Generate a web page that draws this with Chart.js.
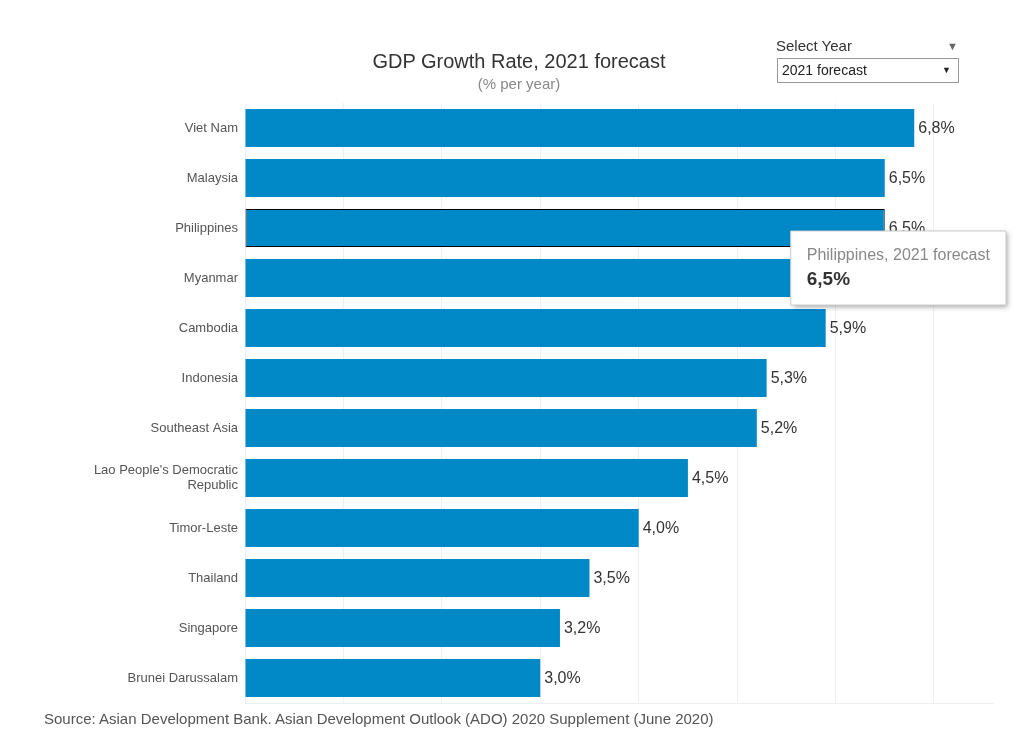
<!DOCTYPE html>
<html><head><meta charset="utf-8">
<script src="https://cdn.jsdelivr.net/npm/chart.js@4/dist/chart.umd.min.js"></script>
<style>
html,body{margin:0;padding:0;background:#fff;font-family:"Liberation Sans",Arial,sans-serif;}
#wrap{position:relative;width:1015px;height:743px;overflow:hidden;}
canvas{position:absolute;left:0;top:0;}
.t{position:absolute;white-space:nowrap;}
#title{left:0;width:1038px;text-align:center;top:50px;font-size:20px;color:#333;}
#sub{left:0;width:1038px;text-align:center;top:75px;font-size:15px;color:#888;}
#selLbl{left:776px;top:37px;font-size:15px;color:#333;}
#selTri{left:947px;top:40px;font-size:11px;color:#666;}
#selBox{left:777px;top:58px;width:180px;height:23px;border:1px solid #999;background:#fff;}
#selTxt{left:4px;top:3px;font-size:14px;color:#222;}
#selTri2{left:164px;top:6px;font-size:9px;color:#222;}
#src{left:44px;top:710px;font-size:15px;color:#555;}
</style></head>
<body><div id="wrap">
<canvas id="c" width="1015" height="743"></canvas>
<div class="t" id="title">GDP Growth Rate, 2021 forecast</div>
<div class="t" id="sub">(% per year)</div>
<div class="t" id="selLbl">Select Year</div>
<div class="t" id="selTri">&#9660;</div>
<div class="t" id="selBox"><div class="t" id="selTxt">2021 forecast</div><div class="t" id="selTri2">&#9660;</div></div>
<div class="t" id="src">Source: Asian Development Bank. Asian Development Outlook (ADO) 2020 Supplement (June 2020)</div>
</div>
<script>
const categories = ["Viet Nam","Malaysia","Philippines","Myanmar","Cambodia","Indonesia","Southeast Asia",["Lao People's Democratic","Republic"],"Timor-Leste","Thailand","Singapore","Brunei Darussalam"];
const growth2021 = [6.8,6.5,6.5,6.0,5.9,5.3,5.2,4.5,4.0,3.5,3.2,3.0];
const seriesName = "2021 forecast";
const highlightIndex = 2;

const fmt = v => v.toFixed(1).replace('.', ',') + '%';
const BLUE = '#0088c7';
const AXIS_MAX = 7.6;

const valueLabels = {
  id: 'valueLabels',
  afterDatasetsDraw(chart) {
    const ctx = chart.ctx;
    const meta = chart.getDatasetMeta(0);
    ctx.save();
    ctx.font = '16px "Liberation Sans", Arial, sans-serif';
    ctx.fillStyle = '#333';
    ctx.textBaseline = 'middle';
    ctx.textAlign = 'left';
    meta.data.forEach((el, i) => {
      ctx.fillText(fmt(growth2021[i]), el.x + 4, el.y + 1);
    });
    ctx.restore();
  }
};

const tipShadow = {
  id: 'tipShadow',
  beforeTooltipDraw(chart, args) {
    const t = args.tooltip;
    if (!t || !t.opacity) return;
    const ctx = chart.ctx;
    ctx.save();
    ctx.shadowColor = 'rgba(0,0,0,0.35)';
    ctx.shadowBlur = 5;
    ctx.shadowOffsetX = 2;
    ctx.shadowOffsetY = 2;
    ctx.fillStyle = '#fff';
    ctx.fillRect(t.x, t.y, t.width, t.height);
    ctx.restore();
  }
};

Chart.Tooltip.positioners.pinned = function(elements) {
  if (!elements.length) return false;
  const el = elements[0].element;
  return {x: el.x - 94, y: el.y + 3, xAlign: 'left', yAlign: 'top'};
};

const chart = new Chart(document.getElementById('c'), {
  type: 'bar',
  data: {
    labels: categories,
    datasets: [{
      label: seriesName,
      data: growth2021,
      backgroundColor: BLUE,
      hoverBackgroundColor: BLUE,
      borderColor: growth2021.map((v, i) => i === highlightIndex ? '#000' : BLUE),
      hoverBorderColor: growth2021.map((v, i) => i === highlightIndex ? '#000' : BLUE),
      borderWidth: growth2021.map((v, i) => i === highlightIndex ? 1 : 0),
      hoverBorderWidth: growth2021.map((v, i) => i === highlightIndex ? 1 : 0),
      borderSkipped: false,
      barPercentage: 0.76,
      categoryPercentage: 1.0
    }]
  },
  options: {
    indexAxis: 'y',
    responsive: false,
    animation: false,
    events: [],
    layout: {padding: {left: 0, right: 22, top: 103, bottom: 40}},
    scales: {
      x: {
        min: 0, max: AXIS_MAX,
        ticks: {display: false, stepSize: 1},
        grid: {color: c => (c.tick && c.tick.value === AXIS_MAX) ? 'rgba(0,0,0,0)' : '#efefef', drawTicks: false, lineWidth: 1},
        border: {display: true, color: '#efefef'}
      },
      y: {
        afterFit(scale) { scale.width = 245; },
        ticks: {color: '#555', font: {family: '"Liberation Sans", Arial, sans-serif', size: 13}, padding: 7},
        grid: {display: false, drawTicks: false},
        border: {display: false}
      }
    },
    plugins: {
      legend: {display: false},
      tooltip: {
        enabled: true,
        position: 'pinned',
        backgroundColor: '#fff',
        borderColor: '#ccc',
        borderWidth: 1,
        cornerRadius: 0,
        caretSize: 0,
        caretPadding: 0,
        displayColors: false,
        padding: {left: 16, right: 16, top: 15, bottom: 14},
        titleColor: '#888',
        titleFont: {family: '"Liberation Sans", Arial, sans-serif', size: 16, weight: 'normal'},
        titleMarginBottom: 3,
        bodyColor: '#333',
        bodyFont: {family: '"Liberation Sans", Arial, sans-serif', size: 19, weight: 'bold'},
        callbacks: {
          title: items => {
            const l = categories[items[0].dataIndex];
            return (Array.isArray(l) ? l.join(' ') : l) + ', ' + seriesName;
          },
          label: item => fmt(growth2021[item.dataIndex])
        }
      }
    }
  },
  plugins: [valueLabels, tipShadow]
});

const el = chart.getDatasetMeta(0).data[highlightIndex];
chart.tooltip.setActiveElements([{datasetIndex: 0, index: highlightIndex}], {x: el.x, y: el.y});
chart.update();
</script>
</body></html>
